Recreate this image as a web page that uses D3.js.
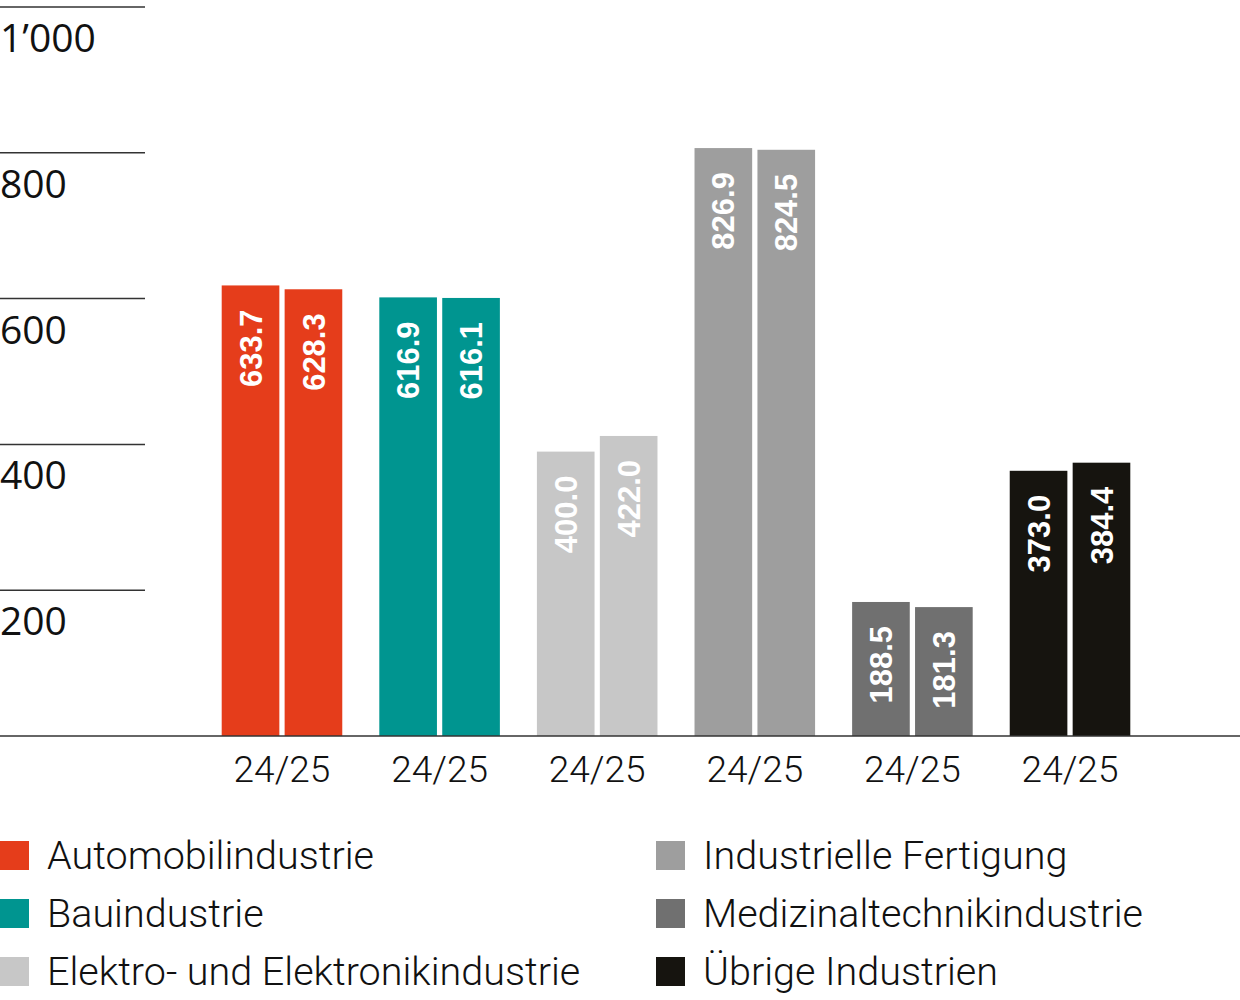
<!DOCTYPE html>
<html><head><meta charset="utf-8">
<script src="https://cdn.jsdelivr.net/npm/d3@7"></script>
<style>
html,body{margin:0;padding:0;background:#fff;}
svg{display:block;}
</style></head>
<body>
<svg id="chart" width="1240" height="1000"></svg>
<script>
const categories = ["Automobilindustrie", "Bauindustrie", "Elektro- und Elektronikindustrie", "Industrielle Fertigung", "Medizinaltechnikindustrie", "Übrige Industrien"];
const tickLabels = ["24/25", "24/25", "24/25", "24/25", "24/25", "24/25"];
const seriesA = [633.7, 616.9, 400.0, 826.9, 188.5, 373.0];
const seriesB = [628.3, 616.1, 422.0, 824.5, 181.3, 384.4];
const yTicks = [200, 400, 600, 800, 1000];
const yTickLabels = ["200", "400", "600", "800", "1’000"];
const colors = ["#e53d1b", "#009590", "#c7c7c7", "#9e9e9e", "#707070", "#16140f"];

const svg = d3.select("#chart");
const baseY = 736;

const y = d3.scaleLinear().domain([0, 1000]).range([baseY, 25]);
const yGrid = d3.scaleLinear().domain([0, 1000]).range([baseY, 7]);

const x0 = d3.scaleBand().domain(d3.range(categories.length)).range([221.7, 1130.3]).paddingInner(0.235).paddingOuter(0);
const x1 = d3.scaleBand().domain([0, 1]).range([0, x0.bandwidth()]).paddingInner(0.084).paddingOuter(0);

// gridlines
const grid = svg.append("g");
grid.selectAll("line").data(yTicks).join("line")
  .attr("x1", 0).attr("x2", 145)
  .attr("y1", d => yGrid(d)).attr("y2", d => yGrid(d))
  .attr("stroke", "#333").attr("stroke-width", 1.5);
grid.selectAll("text").data(yTicks).join("text")
  .attr("x", 0).attr("y", d => yGrid(d) + 45)
  .attr("font-family", "'Open Sans', sans-serif").attr("font-size", 39).attr("fill", "#111")
  .text((d, i) => yTickLabels[i]);

// bars
const data = categories.map((c, i) => ({i, vals: [seriesA[i], seriesB[i]]}));
const groups = svg.append("g").selectAll("g").data(data).join("g")
  .attr("transform", d => `translate(${x0(d.i)},0)`);
groups.selectAll("rect").data(d => d.vals.map((v, k) => ({v, k, i: d.i}))).join("rect")
  .attr("x", d => x1(d.k)).attr("width", x1.bandwidth())
  .attr("y", d => y(d.v)).attr("height", d => baseY - y(d.v))
  .attr("fill", d => colors[d.i]);
const fs = 31;
groups.selectAll("text").data(d => d.vals.map((v, k) => ({v, k, i: d.i}))).join("text")
  .attr("transform", d => `translate(${x1(d.k) + x1.bandwidth()/2 + fs*0.36},${y(d.v) + 24}) rotate(-90)`)
  .attr("text-anchor", "end")
  .attr("font-family", "'Liberation Sans', Arial, sans-serif").attr("font-weight", "bold")
  .attr("font-size", fs).attr("fill", "#fff")
  .text(d => d.v.toFixed(1));

// baseline
svg.append("line").attr("x1", 0).attr("x2", 1240).attr("y1", baseY).attr("y2", baseY)
  .attr("stroke", "#333").attr("stroke-width", 1.5);

// x tick labels
svg.append("g").selectAll("text").data(tickLabels).join("text")
  .attr("x", (d, i) => x0(i) + x0.bandwidth()/2).attr("y", 782)
  .attr("text-anchor", "middle")
  .attr("font-family", "Roboto, sans-serif").attr("font-weight", 300)
  .attr("font-size", 37).attr("fill", "#111")
  .text(d => d);

// legend
const legend = svg.append("g");
const items = legend.selectAll("g").data(categories).join("g")
  .attr("transform", (d, i) => `translate(${i < 3 ? 0 : 656},${841 + (i % 3) * 58})`);
items.append("rect").attr("width", 29).attr("height", 29).attr("fill", (d, i) => colors[i]);
items.append("text").attr("x", 47).attr("y", 28)
  .attr("font-family", "Roboto, sans-serif").attr("font-weight", 300)
  .attr("font-size", 39.5).attr("fill", "#111")
  .text(d => d);
</script>
</body></html>
